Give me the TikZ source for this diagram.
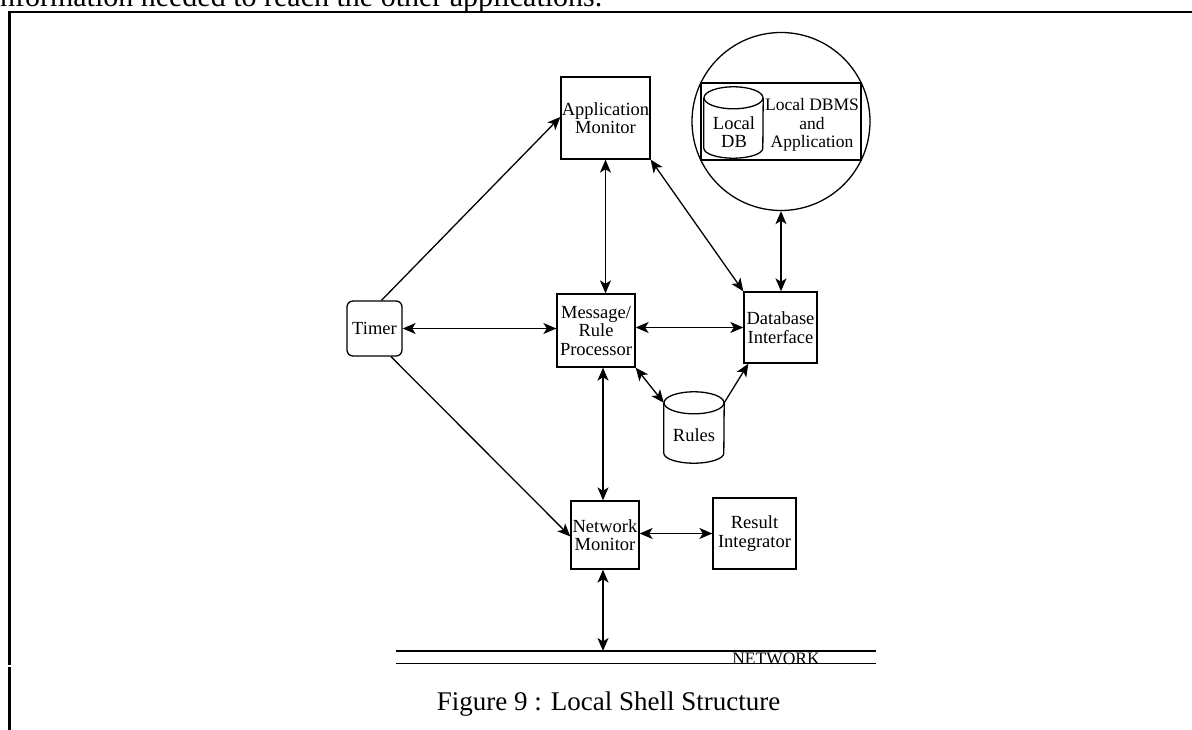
\documentclass[tikz,border=0pt]{standalone}
\usepackage{fontspec}
\setmainfont{Liberation Serif}
\usetikzlibrary{arrows.meta}
\begin{document}
\begin{tikzpicture}[x=1pt,y=-1pt,
  wire/.style={line width=1.3pt},
  head/.tip={Stealth[length=13pt,width=11pt,inset=3.5pt]},
  tip/.style={wire,-head},
  twotip/.style={wire,head-head},
  unit/.style={draw, line width=1.3pt, rectangle, inner sep=0pt, align=center,
               font=\fontsize{18.5}{18.5}\selectfont},
  lbl/.style={inner sep=0pt, align=center, font=\fontsize{18.5}{18.5}\selectfont},
  hold/.style={inner sep=0pt, rectangle},
]
\clip (0,0) rectangle (1192,730);

% page fragment: running text, rule and margin bar
\node[anchor=base west, inner sep=0pt, font=\fontsize{30}{36}\selectfont] (bodytext) at (-8.5,6.5)
  {information needed to reach the other applications.};
\draw[line width=2.5pt] (8,12) -- (1192,12);
\draw[line width=3pt] (9,11) -- (9,665);
\draw[line width=3pt] (9,667) -- (9,730);

% local DBMS site
\node[draw, circle, line width=1.3pt, minimum size=178pt, inner sep=0pt] (site) at (781,121.5) {};
\node[unit, minimum width=160pt, minimum height=77pt] (dbms) at (781,121.5) {};
\node[lbl, font=\fontsize{17.5}{18.5}\selectfont] (dbmstxt) at (812,125) {Local DBMS\\and\\Application};
\node[hold, minimum width=59pt, minimum height=71pt] (localdb) at (733.5,122.5) {};
\draw[wire] ([yshift=-11pt]localdb.north) ellipse [x radius=29.5pt, y radius=11pt];
\draw[wire] ([yshift=-11pt]localdb.north west) -- ([yshift=10pt]localdb.south west)
  arc[start angle=180, end angle=360, x radius=29.5pt, y radius=10pt]
  -- ([yshift=-11pt]localdb.north east);
\node[lbl] (localdbtxt) at (734,132) {Local\\DB};

% processing units
\node[unit, minimum width=89pt, minimum height=82pt] (appmon) at (605.5,118) {Application\\Monitor};
\node[unit, minimum width=78pt, minimum height=73pt] (msg) at (596,330.5) {Message/\\Rule\\Processor};
\node[unit, minimum width=73pt, minimum height=71pt] (dbi) at (780.5,327.5) {Database\\Interface};
\node[unit, minimum width=68pt, minimum height=68pt] (netmon) at (605,535) {Network\\Monitor};
\node[unit, minimum width=83pt, minimum height=71pt] (result) at (754.5,533.5) {Result\\Integrator};
\node[unit, rounded corners=6pt, minimum width=55pt, minimum height=55pt] (timer) at (374.5,328.5) {Timer};

% rule store
\node[hold, minimum width=60pt, minimum height=71pt] (rules) at (694,427.5) {};
\draw[wire] ([yshift=-11pt]rules.north) ellipse [x radius=30pt, y radius=11pt];
\draw[wire] ([yshift=-11pt]rules.north west) -- ([yshift=10pt]rules.south west)
  arc[start angle=180, end angle=360, x radius=30pt, y radius=10pt]
  -- ([yshift=-11pt]rules.north east);
\node[lbl] (rulestxt) at ([yshift=-8pt]rules.center) {Rules};
\coordinate (rulesL) at ([yshift=-11pt]rules.north west);
\coordinate (rulesR) at ([yshift=-11pt]rules.north east);

% network bus
\coordinate (netW) at (396,651);
\coordinate (netE) at (876,651);
\draw[wire] (netW) -- (netE);
\draw[wire] ([yshift=-12.3pt]netW) -- ([yshift=-12.3pt]netE);
\node[anchor=base, inner sep=0pt, font=\fontsize{17.5}{17.5}\selectfont] (netlabel) at (776,664) {NETWORK};

% connections
\draw[tip] ([xshift=7pt]timer.north) -- ([yshift=1pt]appmon.west);
\draw[tip] ([xshift=16.5pt]timer.south) -- ([yshift=-1.5pt]netmon.west);
\draw[twotip] (timer.east) -- (timer.east -| msg.west);
\draw[twotip] (appmon.south) -- (appmon.south |- msg.north);
\draw[twotip] (appmon.south east) -- (dbi.north west);
\draw[twotip] (site.south) -- (site.south |- dbi.north);
\draw[twotip] (msg.east |- dbi.west) -- (dbi.west);
\draw[twotip] (msg.south east) -- (rulesL);
\draw[tip] (rulesR) -- ([xshift=5pt]dbi.south west);
\draw[twotip] ([xshift=-2pt]netmon.north |- msg.south) -- ([xshift=-2pt]netmon.north);
\draw[twotip] (netmon.east |- result.west) -- (result.west);
\draw[twotip] ([xshift=-2pt]netmon.south) -- ([xshift=-2pt]netmon.south |- netW);

% caption
\node[anchor=base, inner sep=0pt, font=\fontsize{27}{32}\selectfont] (caption) at (608.5,710)
  {Figure 9 : Local Shell Structure};
\end{tikzpicture}
\end{document}
